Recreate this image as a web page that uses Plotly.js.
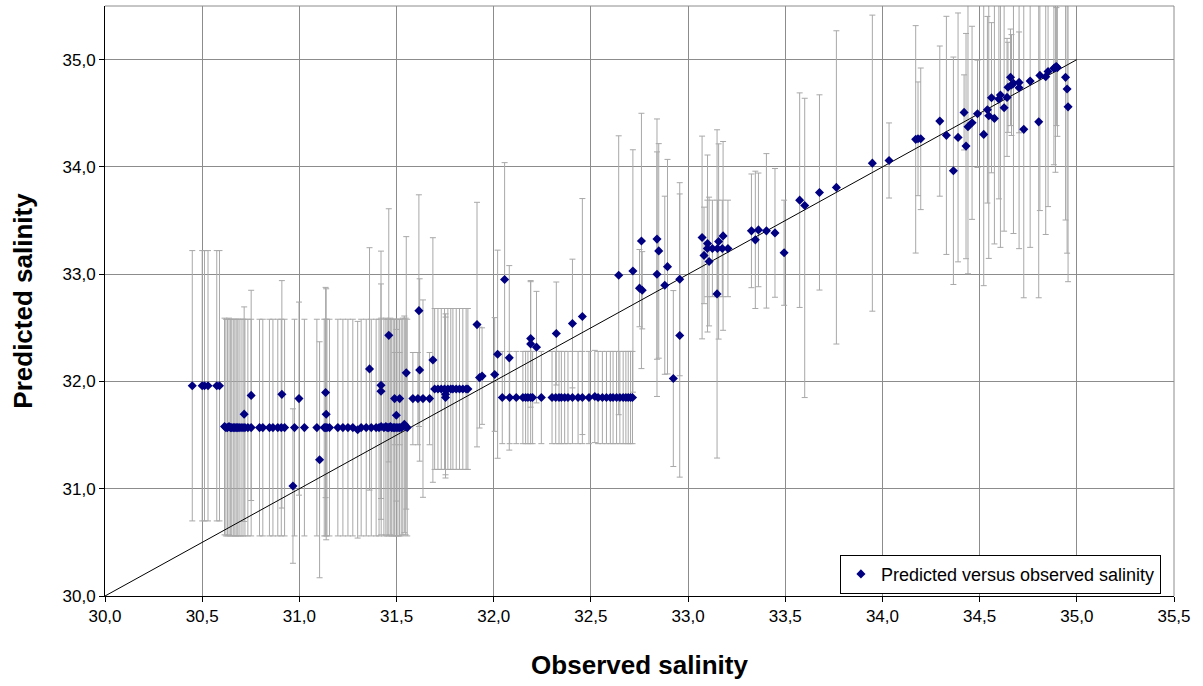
<!DOCTYPE html>
<html>
<head>
<meta charset="utf-8">
<script src="https://cdn.plot.ly/plotly-3.0.1.min.js"></script>
<style>html,body{margin:0;padding:0;background:#fff}#chart{width:1203px;height:686px}</style>
</head>
<body>
<div id="chart"></div>
<script>
// Group A: y ~31.96, error +-1.26
const gA_x = [30.449, 30.50, 30.512, 30.53, 30.575, 30.589];
const gA_y = [31.96, 31.96, 31.96, 31.96, 31.96, 31.96];
const gA_err = 1.26;

// Group B: y ~31.57, error +-1.01
const gB_x = [30.615, 30.622, 30.63, 30.638, 30.645, 30.652, 30.66, 30.668, 30.675, 30.683,
  30.69, 30.70, 30.71, 30.72, 30.735, 30.752, 30.795, 30.812, 30.846, 30.864,
  30.889, 30.907, 30.924, 30.975, 31.026, 31.09, 31.128, 31.135, 31.142, 31.155,
  31.198, 31.224, 31.25, 31.275, 31.30, 31.318, 31.344, 31.37, 31.395, 31.41,
  31.421, 31.435, 31.445, 31.452, 31.46, 31.468, 31.475, 31.483, 31.49, 31.498,
  31.507, 31.515, 31.524, 31.532, 31.54, 31.547, 31.555];
const gB_y = [31.58, 31.57, 31.57, 31.58, 31.57, 31.57, 31.57, 31.57, 31.57, 31.57,
  31.57, 31.57, 31.57, 31.57, 31.57, 31.57, 31.57, 31.57, 31.57, 31.57,
  31.57, 31.57, 31.57, 31.57, 31.57, 31.57, 31.57, 31.57, 31.57, 31.57,
  31.57, 31.57, 31.57, 31.57, 31.55, 31.57, 31.57, 31.57, 31.57, 31.57,
  31.58, 31.57, 31.58, 31.57, 31.57, 31.58, 31.57, 31.57, 31.57, 31.57,
  31.57, 31.57, 31.57, 31.58, 31.60, 31.58, 31.57];
const gB_err = 1.01;

// Group C: y ~31.93, error +-0.75
const gC_x = [31.696, 31.713, 31.73, 31.747, 31.764, 31.779, 31.79, 31.807, 31.824, 31.841, 31.858, 31.867];
const gC_y = [31.93, 31.93, 31.93, 31.93, 31.93, 31.93, 31.93, 31.93, 31.93, 31.93, 31.93, 31.93];
const gC_err = 0.75;

// Group E: y ~31.84, error +-0.43
const gE_x = [31.49, 31.516, 31.584, 31.61, 31.67];
const gE_y = [31.84, 31.84, 31.84, 31.84, 31.84];
const gE_err = 0.43;

// Group D: y ~31.85, error +-0.43
const gD_x = [32.044, 32.082, 32.116, 32.15, 32.164, 32.176, 32.19, 32.20, 32.245, 32.30,
  32.319, 32.336, 32.348, 32.365, 32.382, 32.405, 32.434, 32.456, 32.49, 32.52,
  32.537, 32.559, 32.58, 32.60, 32.614, 32.632, 32.649, 32.666, 32.68, 32.692,
  32.704, 32.714];
const gD_y = [31.85, 31.85, 31.85, 31.85, 31.85, 31.85, 31.85, 31.85, 31.85, 31.85,
  31.85, 31.85, 31.85, 31.85, 31.85, 31.85, 31.85, 31.85, 31.85, 31.86,
  31.85, 31.85, 31.85, 31.85, 31.85, 31.85, 31.85, 31.85, 31.85, 31.85,
  31.85, 31.85];
const gD_err = 0.43;

// Individual points
const sX = [30.716, 30.752, 30.91, 30.998, 30.967, 31.104, 31.135, 31.138, 31.361, 31.42,
  31.42, 31.46, 31.499, 31.55, 31.615, 31.619, 31.636, 31.687, 31.752, 31.752,
  31.914, 31.927, 31.94, 32.005, 32.02, 32.056, 32.08, 32.19, 32.19, 32.22,
  32.322, 32.405, 32.456, 32.643, 32.716, 32.75, 32.764, 32.76, 32.84, 32.849,
  32.84, 32.88, 32.894, 32.924, 32.957, 32.957, 33.072, 33.082, 33.10, 33.108,
  33.099, 33.125, 33.151, 33.176, 33.205, 33.149, 33.157, 33.18, 33.326, 33.346,
  33.362, 33.403, 33.447, 33.494, 33.574, 33.60, 33.676, 33.763,
  33.948, 34.034, 34.171, 34.183, 34.197, 34.295, 34.329, 34.365, 34.389, 34.42,
  34.43, 34.44, 34.461, 34.489, 34.521, 34.54, 34.547, 34.561, 34.576, 34.599,
  34.607, 34.626, 34.641, 34.646, 34.659, 34.664, 34.674, 34.703, 34.703, 34.727,
  34.76, 34.804, 34.81, 34.84, 34.852, 34.882, 34.89, 34.895, 34.90, 34.942,
  34.95, 34.955];
const sY = [31.695, 31.87, 31.88, 31.84, 31.025, 31.27, 31.897, 31.694, 32.117, 31.965,
  31.909, 32.43, 31.685, 32.08, 32.66, 32.107, 31.84, 32.20, 31.88, 31.85,
  32.53, 32.036, 32.05, 32.065, 32.254, 32.95, 32.22, 32.40, 32.35, 32.32,
  32.447, 32.54, 32.605, 32.99, 33.03, 32.87, 32.85, 33.31, 33.327, 33.217,
  33.0, 32.897, 33.07, 32.027, 32.953, 32.428, 33.342, 33.175, 33.286, 33.118,
  33.24, 33.24, 33.24, 33.24, 33.24, 32.816, 33.305, 33.357, 33.404, 33.32,
  33.413, 33.404, 33.385, 33.20, 33.69, 33.64, 33.762, 33.809,
  34.035, 34.06, 34.257, 34.262, 34.262, 34.427, 34.294, 33.964, 34.275, 34.508,
  34.194, 34.374, 34.411, 34.495, 34.303, 34.533, 34.477, 34.645, 34.452, 34.632,
  34.67, 34.551, 34.648, 34.742, 34.835, 34.763, 34.779, 34.788, 34.738, 34.35,
  34.80, 34.42, 34.853, 34.84, 34.89, 34.92, 34.93, 34.935, 34.925, 34.835,
  34.726, 34.56];
const sErrUp = [1.0, 0.98, 1.06, 0.9, 0.72, 1.1, 0.98, 1.17, 1.13, 1.25,
  1.0, 1.18, 0.8, 1.27, 1.08, 0.85, 0.92, 1.14, 0.75, 0.75,
  1.14, 0.47, 0.45, 0.53, 0.97, 1.09, 0.86, 0.53, 0.59, 0.52,
  0.48, 0.6, 1.1, 1.3, 1.13, 0.36, 0.36, 1.19, 1.12, 1.0,
  1.14, 0.83, 1.0, 0.82, 0.9, 1.32, 0.945, 0.45, 0.825, 0.6,
  0.45, 0.45, 0.45, 0.45, 0.45, 1.53, 0.91, 0.88, 0.53, 0.64,
  0.53, 0.72, 0.6, 0.49, 1.0, 1.0, 0.91, 1.46,
  1.38, 0.35, 1.06, 0.53, 0.66, 0.7, 1.11, 1.06, 1.16, 0.35,
  1.05, 1.37, 0.9, 0.5, 1.41, 0.87, 1.33, 0.7, 1.17, 0.93,
  1.42, 1.15, 0.55, 0.42, 0.45, 0.47, 1.4, 0.47, 1.5, 1.57,
  1.55, 1.64, 1.26, 1.47, 1.26, 0.9, 0.98, 0.55, 0.64, 1.33,
  1.53, 1.63];
const sErrDown = [1.0, 0.98, 1.06, 0.9, 0.72, 1.1, 0.98, 1.17, 1.13, 1.25,
  1.0, 1.18, 0.8, 1.27, 1.08, 0.85, 0.92, 1.14, 0.75, 0.75,
  1.14, 0.47, 0.45, 0.53, 0.97, 1.09, 0.86, 0.53, 0.59, 0.52,
  0.48, 0.6, 1.1, 1.3, 1.13, 0.36, 0.36, 1.19, 1.12, 1.0,
  1.14, 0.83, 1.0, 0.82, 0.9, 1.32, 0.945, 0.45, 0.825, 0.6,
  0.45, 0.45, 0.45, 0.45, 0.45, 1.53, 0.91, 0.88, 0.53, 0.64,
  0.53, 0.72, 0.6, 0.49, 1.0, 1.79, 0.91, 1.46,
  1.38, 0.35, 1.06, 0.53, 0.66, 0.7, 1.11, 1.06, 1.16, 0.35,
  1.05, 1.37, 0.9, 0.5, 1.41, 0.87, 1.33, 0.7, 1.17, 0.93,
  1.42, 1.15, 0.55, 0.42, 0.45, 0.47, 1.4, 0.47, 1.5, 1.57,
  1.55, 1.64, 1.26, 1.47, 1.26, 0.9, 0.98, 0.55, 0.64, 1.33,
  1.53, 1.63];

// 1:1 reference line
const diagX = [30, 35];
const diagY = [30, 35];

const xTickVals = [30, 30.5, 31, 31.5, 32, 32.5, 33, 33.5, 34, 34.5, 35, 35.5];
const yTickVals = [30, 31, 32, 33, 34, 35];

const errColor = '#a8a8a8';
function errTrace(x, y, val) {
  return {
    x: x, y: y, type: 'scatter', mode: 'markers', showlegend: false, hoverinfo: 'skip',
    marker: {size: 7, opacity: 0},
    error_y: {type: 'constant', value: val, color: errColor, thickness: 1, width: 3}
  };
}

const allX = [].concat(gA_x, gB_x, gC_x, gE_x, gD_x, sX);
const allY = [].concat(gA_y, gB_y, gC_y, gE_y, gD_y, sY);

const traces = [
  errTrace(gA_x, gA_y, gA_err),
  errTrace(gB_x, gB_y, gB_err),
  errTrace(gC_x, gC_y, gC_err),
  errTrace(gE_x, gE_y, gE_err),
  errTrace(gD_x, gD_y, gD_err),
  {
    x: sX, y: sY, type: 'scatter', mode: 'markers', showlegend: false, hoverinfo: 'skip',
    marker: {size: 7, opacity: 0},
    error_y: {type: 'data', symmetric: false, array: sErrUp, arrayminus: sErrDown,
      color: errColor, thickness: 1, width: 3}
  },
  {
    x: diagX, y: diagY, type: 'scatter', mode: 'lines', showlegend: false,
    line: {color: '#000000', width: 1}
  },
  {
    x: allX, y: allY, type: 'scatter', mode: 'markers',
    name: 'Predicted versus observed salinity',
    marker: {symbol: 'diamond', size: 7, color: '#000080'}
  }
];

const fontFam = 'Liberation Sans, Arial, sans-serif';
const layout = {
  width: 1203, height: 686,
  margin: {l: 105, r: 29, t: 6, b: 90},
  paper_bgcolor: '#ffffff', plot_bgcolor: '#ffffff',
  separators: ',.',
  font: {family: fontFam, color: '#000000'},
  showlegend: true,
  legend: {
    x: 0.6875, y: 0.07, xanchor: 'left', yanchor: 'top',
    bgcolor: '#ffffff', bordercolor: '#000000', borderwidth: 1,
    font: {family: fontFam, size: 18, color: '#000000'},
    itemwidth: 30, tracegroupgap: 0
  },
  xaxis: {
    range: [30, 35.5], tickmode: 'array', tickvals: xTickVals, tickformat: '.1f',
    showgrid: true, gridcolor: '#8c8c8c', gridwidth: 1, zeroline: false,
    showline: true, linecolor: '#000000', linewidth: 1,
    ticks: 'outside', ticklen: 5, tickcolor: '#000000',
    tickfont: {family: fontFam, size: 17, color: '#000000'},
    automargin: false,
    title: {text: '<b>Observed salinity</b>', font: {family: fontFam, size: 26, color: '#000000'}, standoff: 30}
  },
  yaxis: {
    range: [30, 35.5], tickmode: 'array', tickvals: yTickVals, tickformat: '.1f',
    showgrid: true, gridcolor: '#8c8c8c', gridwidth: 1, zeroline: false,
    showline: true, linecolor: '#000000', linewidth: 1,
    ticks: 'outside', ticklen: 5, tickcolor: '#000000',
    tickfont: {family: fontFam, size: 17, color: '#000000'},
    automargin: false,
    title: {text: '<b>Predicted salinity</b>', font: {family: fontFam, size: 26, color: '#000000'}, standoff: 22}
  },
  shapes: [
    {type: 'line', xref: 'paper', yref: 'paper', x0: 0, x1: 1, y0: 1, y1: 1, line: {color: '#8c8c8c', width: 1}},
    {type: 'line', xref: 'paper', yref: 'paper', x0: 1, x1: 1, y0: 0, y1: 1, line: {color: '#8c8c8c', width: 1}}
  ]
};

Plotly.newPlot('chart', traces, layout, {displayModeBar: false, staticPlot: true});
</script>
</body>
</html>
